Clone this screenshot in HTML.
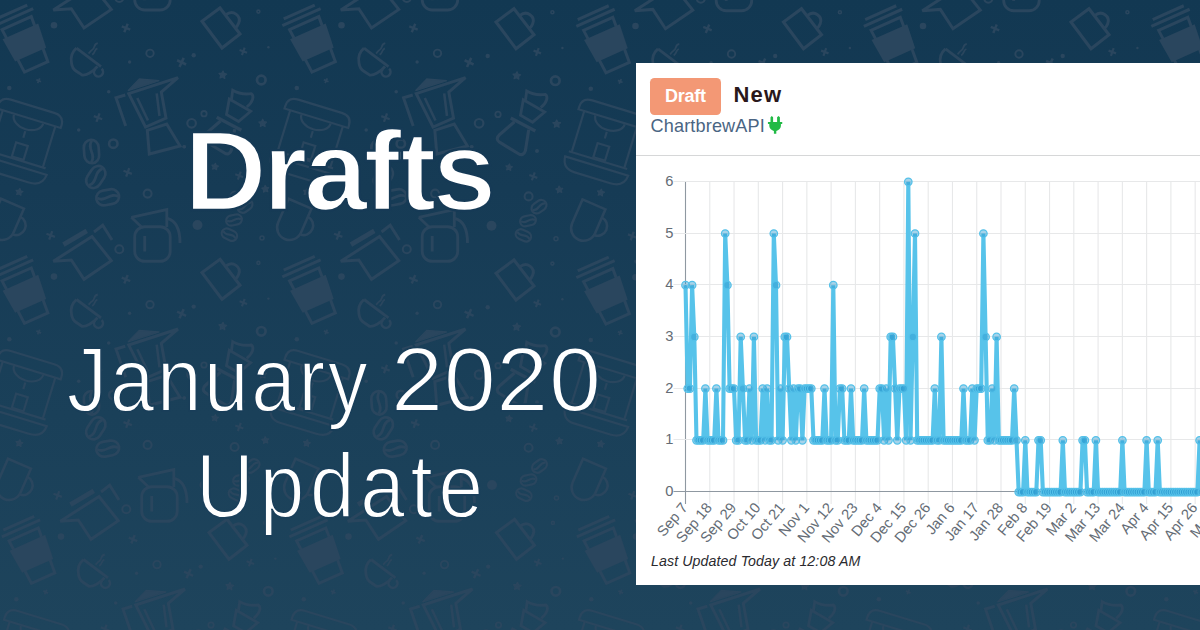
<!DOCTYPE html>
<html lang="en"><head><meta charset="utf-8"><title>Drafts - January 2020 Update</title>
<style>
html,body{margin:0;padding:0}
html{background:#173c56;height:630px;overflow:hidden}
body{width:1200px;height:630px;overflow:hidden;position:relative;background:linear-gradient(180deg,#123852 0%,#163b55 30%,#1a4059 66%,#1e445c 100%);font-family:"Liberation Sans",Arial,sans-serif}
svg.bg,svg.chart{position:absolute;left:0;top:0;display:block}
.title{position:absolute;left:0;width:677px;text-align:center;color:#fff;white-space:nowrap}
.t1{top:111px;font-size:114px;line-height:120px;font-weight:bold;letter-spacing:-3.5px;-webkit-text-stroke:2.4px #163a56}
.t2{font-size:80px;line-height:80px;letter-spacing:3.75px;transform:scaleY(1.135);transform-origin:0 67.7px}
.l2{top:343.8px;height:80px;text-align:left;-webkit-text-stroke:1.6px #193e59}
.l2 span{position:absolute;top:0;display:block}
.jan{left:67px;letter-spacing:2.7px}
.yr{left:391px;letter-spacing:.5px;transform:scaleX(1.17);transform-origin:0 0}
.l3{top:450px;left:4px;letter-spacing:5.8px;-webkit-text-stroke:1.6px #1b405b}
.card{position:absolute;left:636px;top:63px;width:600px;height:522px;background:#fff}
.label{position:absolute;left:650px;top:78px;width:71px;height:36.5px;border-radius:4.5px;background:#f39875;color:#fff;font-weight:bold;font-size:18px;letter-spacing:-.25px;line-height:37px;text-align:center}
.new{position:absolute;left:733.5px;top:80.5px;font-size:22px;line-height:28px;font-weight:bold;color:#2a181b;letter-spacing:1.2px}
.conn{position:absolute;left:650.5px;top:114.3px;font-size:18.1px;line-height:24px;color:#4a6583;letter-spacing:.15px}
.hr{position:absolute;left:636px;top:155px;width:600px;height:1.3px;background:#d6d7d8}
.upd{position:absolute;left:651px;top:551.5px;font-size:14.2px;line-height:18px;font-style:italic;color:#2a2a2e;letter-spacing:.1px}
svg.plug{position:absolute;left:768px;top:116px;overflow:visible}
</style></head><body>
<svg class="bg" width="1200" height="630" viewBox="0 0 1200 630">
<defs><g id="all"><g id="e0"><g transform="translate(14,17.1) rotate(-24)">
<path d="M-17,-5.6H17M-21,0H21" stroke-width="3.12"/>
<path d="M-16,6.6H16L12.8,54.5H-12.800000Z" stroke-width="2.99"/>
<path d="M-19.5,15.7H19.5L17,41H-17Z" fill="#2a465e" stroke="none"/></g></g><g id="e1"><path d="M53.3,261.3L92,236.5L111.3,260.7L84,279.3L71.3,260Z" stroke-width="2.99"/>
<path d="M62.2,242.6L85.6,228.8L88,232.9L64.6,246.7Z" fill="#2a465e" stroke="none"/>
<path d="M94,232L102.7,225.3L112,240" stroke-width="2.99"/></g><g id="e2"><circle cx="54" cy="25.3" r="3.3" fill="#2a465e" stroke="none"/></g><g id="e3"><path transform="translate(126,28) rotate(22)" stroke-width="2.47" d="M-4.6,0H4.6M0,-4.6V4.6"/></g><g id="e4"><circle cx="150" cy="53.3" r="3.7" stroke-width="1.95"/></g><g id="e5"><circle cx="129.6" cy="62" r="1.7" fill="#2a465e" stroke="none"/></g><g id="e6"><path d="M76.5,48.2L101,66.6" stroke-width="2.86"/>
<path d="M76.5,48.2C72,52 70.5,58 71.5,63C72,67 73,69 76,71L82,75C86,75.6 93,72 97.5,66.3" stroke-width="2.86"/>
<path d="M95.2,69A4.5,4.5 0 1 0 101.6,68.8" stroke-width="2.60"/>
<path d="M97.8,43.2C93,44 95.5,48.5 92,50C90,51 90,52.5 88.5,53.5M97.4,48.3C94,49.5 96,52 92.2,54.7" stroke-width="1.82"/></g><g id="e7"><path transform="translate(38.7,80.7) rotate(25)" stroke-width="1.82" d="M-2.6,0H2.6M0,-2.6V2.6"/></g><g id="e8"><path d="M128,90.7L139.3,79L159.3,80.7Z" fill="#2a465e" stroke="#2a465e" stroke-width="1.30"/>
<path d="M128.7,93.7L178,77.7L161.3,92L166,118L145.5,127Z" stroke-width="2.99"/>
<path d="M137.3,98L148,120.5M156.7,93.3L159.5,116" stroke-width="2.60"/>
<path d="M125.3,95L116,97.7L125.7,126" stroke-width="2.99"/>
<path d="M147.3,130.3L166.7,124L180,146L149.3,154Z" stroke-width="2.99"/></g><g id="e9"><circle cx="184" cy="146.7" r="1.8" fill="#2a465e" stroke="none"/></g><g id="e10"><circle cx="113.3" cy="143.7" r="4.2" stroke-width="2.60"/></g><g id="e11"><g transform="translate(-3,108.5) rotate(17)" stroke-width="2.21">
<path d="M0,0H66.6V-2.5Q66.6,-12.5 56,-12.5H10.6Q0,-12.5 0,-2.5Z"/>
<path d="M6,0V43M61,0V43"/>
<path d="M18,1A15.3,10.5 0 0 0 48.6,1"/>
<path d="M33.7,13.4V20.3"/>
<rect x="28.2" y="26.8" width="12.2" height="14.7"/>
<path d="M3,43H64M1,49H67Q66,61.5 52,61.5H14Q2,61.5 1,49Z"/></g></g><g id="e12"><circle cx="9.3" cy="88" r="2.3" fill="#2a465e" stroke="none"/></g><g id="e13"><path transform="translate(98,117.7) rotate(20)" stroke-width="2.34" d="M-4.5,0H4.5M0,-4.5V4.5"/></g><g id="e14"><circle cx="78.7" cy="130" r="1.8" fill="#2a465e" stroke="none"/></g><g id="e15"><circle cx="108.7" cy="91.7" r="1.8" fill="#2a465e" stroke="none"/></g><g id="e16"><g transform="translate(91.5,151.5) rotate(-4)" stroke-width="2.73"><rect x="-7.4" y="-11.75" width="14.8" height="23.5" rx="7.4" ry="7.7700000000000005"/><path d="M1.11,-10.75 C-5.18,-3.52 5.18,3.52 -1.11,10.75"/></g></g><g id="e17"><g transform="translate(95.8,177) rotate(33)" stroke-width="2.73"><rect x="-7.4" y="-11.75" width="14.8" height="23.5" rx="7.4" ry="7.7700000000000005"/><path d="M1.11,-10.75 C-5.18,-3.52 5.18,3.52 -1.11,10.75"/></g></g><g id="e18"><g transform="translate(107.7,197.3) rotate(80)" stroke-width="2.73"><rect x="-7.4" y="-11.5" width="14.8" height="23" rx="7.4" ry="7.7700000000000005"/><path d="M1.11,-10.5 C-5.18,-3.45 5.18,3.45 -1.11,10.5"/></g></g><g id="e19"><path transform="translate(127.7,172.3) rotate(20)" stroke-width="2.34" d="M-4.5,0H4.5M0,-4.5V4.5"/></g><g id="e20"><circle cx="147.6" cy="193.6" r="4" stroke-width="2.08"/></g><g id="e21"><polygon points="19.93,188.45 20.59,190.75 22.86,191.50 20.89,192.85 20.88,195.24 18.99,193.77 16.71,194.50 17.52,192.25 16.12,190.31 18.51,190.38" fill="#2a465e" stroke="#2a465e" stroke-width="1.30" stroke-linejoin="round"/></g><g id="e22"><path transform="translate(50.7,235.3) rotate(20)" stroke-width="2.34" d="M-4.5,0H4.5M0,-4.5V4.5"/></g><g id="e23"><g transform="translate(1,198.7) rotate(23.5)" stroke-width="2.60">
<path d="M0,0H25V26A12.5,12.5 0 0 1 0,26Z"/>
<path d="M25,9A9,9.5 0 0 1 25,28"/></g></g><g id="e24"><path d="M131.3,217.3L166.8,209.5V227" stroke-width="2.86"/>
<path d="M131.3,217.3L141.5,227" stroke-width="2.86"/>
<rect x="134.7" y="226.7" width="35.5" height="34.6" rx="10" ry="10" stroke-width="2.86"/>
<path d="M144.7,236V251.5" stroke-width="2.86"/>
<path d="M167.5,218.500000C177,221 180,230 180,243" stroke-width="2.86"/></g><g id="e25"><path d="M220,8L240,34L222,48L202,21.3Z" stroke-width="3.12"/>
<path d="M226,14.7C233,9 241.500000,16 238.700000,23C237.800000,25.5 236.500000,27 235.3,28" stroke-width="2.99"/></g><g id="e26"><circle cx="258.4" cy="11.6" r="1.5" stroke-width="1.56"/></g><g id="e27"><circle cx="268.4" cy="47.3" r="1.2" fill="#2a465e" stroke="none"/></g><g id="e28"><path transform="translate(243.3,51.3) rotate(20)" stroke-width="2.21" d="M-4,0H4M0,-4V4"/></g><g id="e29"><path transform="translate(181.6,62.4) rotate(25)" stroke-width="2.60" d="M-5,0H5M0,-5V5"/></g><g id="e30"><circle cx="193.7" cy="55.3" r="2.2" fill="#2a465e" stroke="none"/></g><g id="e31"><polygon points="223.05,71.02 224.01,73.49 226.60,74.10 224.54,75.78 224.76,78.43 222.53,76.99 220.08,78.02 220.75,75.45 219.02,73.44 221.67,73.29" fill="#2a465e" stroke="#2a465e" stroke-width="1.30" stroke-linejoin="round"/></g><g id="e32"><circle cx="261.3" cy="80" r="4.3" stroke-width="2.73"/></g><g id="e33"><path d="M231.3,100.7L232.7,90.3C238,93.5 245,94.5 251.3,93.7C254.500000,96 253,102 246.7,107" stroke-width="2.86"/>
<path d="M229.3,99L250.7,111.3L238.600000,121.5L226.5,114.5Z" stroke-width="2.86"/>
<path d="M216.7,117.3L241.4,130.3" stroke-width="3.38"/>
<path d="M220.5,121L205.500000,134C202.5,136.500000 202.5,139.500000 205.500000,141.500000L224.500000,153C227.500000,155 230.500000,153.500000 231.400000,150L234.7,129" stroke-width="3.12"/></g><g id="e34"><circle cx="243" cy="150.3" r="2" fill="#2a465e" stroke="none"/></g><g id="e35"><circle cx="204" cy="113.7" r="2.7" stroke-width="1.82"/></g><g id="e36"><circle cx="191.6" cy="123.3" r="4.3" stroke-width="2.21"/></g><g id="e37"><polygon points="262.70,119.30 263.88,121.68 266.50,122.06 264.60,123.92 265.05,126.54 262.70,125.30 260.35,126.54 260.80,123.92 258.90,122.06 261.52,121.68" fill="#2a465e" stroke="#2a465e" stroke-width="1.30" stroke-linejoin="round"/></g><g id="e38"><circle cx="184.4" cy="146.7" r="1.8" fill="#2a465e" stroke="none"/></g><g id="e39"><polygon points="215.47,163.33 216.18,165.48 218.35,166.11 216.53,167.45 216.60,169.70 214.76,168.38 212.64,169.15 213.33,167.00 211.94,165.21 214.20,165.20" fill="#2a465e" stroke="#2a465e" stroke-width="1.30" stroke-linejoin="round"/></g><g id="e40"><path transform="translate(239.3,175.7) rotate(20)" stroke-width="2.21" d="M-4.3,0H4.3M0,-4.3V4.3"/></g><g id="e41"><polygon points="265.09,185.41 266.33,187.46 268.71,187.59 267.15,189.40 267.76,191.72 265.56,190.79 263.55,192.09 263.74,189.70 261.89,188.19 264.22,187.64" fill="#2a465e" stroke="#2a465e" stroke-width="1.30" stroke-linejoin="round"/></g><g id="e42"><circle cx="234.6" cy="195.7" r="4" stroke-width="2.08"/></g><g id="e43"><g transform="translate(245,206) rotate(55)" stroke-width="2.21"><rect x="-5.25" y="-8.0" width="10.5" height="16" rx="5.25" ry="5.5125"/><path d="M0.79,-7.0 C-3.67,-2.40 3.67,2.40 -0.79,7.0"/></g></g><g id="e44"><g transform="translate(234,220) rotate(78)" stroke-width="2.21"><rect x="-5.0" y="-8.0" width="10" height="16" rx="5.0" ry="5.25"/><path d="M0.75,-7.0 C-3.50,-2.40 3.50,2.40 -0.75,7.0"/></g></g><g id="e45"><g transform="translate(229.4,234.7) rotate(115)" stroke-width="2.21"><rect x="-5.0" y="-8.0" width="10" height="16" rx="5.0" ry="5.25"/><path d="M0.75,-7.0 C-3.50,-2.40 3.50,2.40 -0.75,7.0"/></g></g><g id="e46"><circle cx="197.5" cy="225" r="5" fill="#2a465e" stroke="none"/></g><g id="e47"><circle cx="262" cy="238" r="2" stroke-width="1.56"/></g><g id="e48"><circle cx="119.3" cy="249.3" r="4" stroke-width="2.08"/></g></g></defs>
<g fill="none" stroke="#2a465e" stroke-width="2.9" stroke-linecap="butt" stroke-linejoin="miter"><use href="#e0" x="0.0" y="0.0"/><use href="#e0" x="0.0" y="251.3"/><use href="#e0" x="7.0" y="511.3"/><use href="#e0" x="287.5" y="0.0"/><use href="#e0" x="287.5" y="251.3"/><use href="#e0" x="294.5" y="511.3"/><use href="#e0" x="581.5" y="0.7"/><use href="#e0" x="581.5" y="252.0"/><use href="#e0" x="582.0" y="511.3"/><use href="#e0" x="869.0" y="0.7"/><use href="#e0" x="869.5" y="511.3"/><use href="#e0" x="1156.5" y="0.7"/><use href="#e0" x="1157.0" y="511.3"/><use href="#e1" x="0.0" y="-251.3"/><use href="#e1" x="0.0" y="0.0"/><use href="#e1" x="7.0" y="260.0"/><use href="#e1" x="287.5" y="-251.3"/><use href="#e1" x="287.5" y="0.0"/><use href="#e1" x="294.5" y="260.0"/><use href="#e1" x="581.5" y="-250.6"/><use href="#e1" x="581.5" y="0.7"/><use href="#e1" x="582.0" y="260.0"/><use href="#e1" x="869.0" y="-250.6"/><use href="#e1" x="1156.5" y="-250.6"/><use href="#e2" x="0.0" y="0.0"/><use href="#e2" x="0.0" y="251.3"/><use href="#e2" x="7.0" y="511.3"/><use href="#e2" x="287.5" y="0.0"/><use href="#e2" x="287.5" y="251.3"/><use href="#e2" x="294.5" y="511.3"/><use href="#e2" x="581.5" y="0.7"/><use href="#e2" x="581.5" y="252.0"/><use href="#e2" x="582.0" y="511.3"/><use href="#e2" x="869.0" y="0.7"/><use href="#e2" x="1156.5" y="0.7"/><use href="#e3" x="0.0" y="0.0"/><use href="#e3" x="0.0" y="251.3"/><use href="#e3" x="7.0" y="511.3"/><use href="#e3" x="287.5" y="0.0"/><use href="#e3" x="287.5" y="251.3"/><use href="#e3" x="294.5" y="511.3"/><use href="#e3" x="581.5" y="0.7"/><use href="#e3" x="582.0" y="511.3"/><use href="#e3" x="869.0" y="0.7"/><use href="#e3" x="869.5" y="511.3"/><use href="#e4" x="0.0" y="0.0"/><use href="#e4" x="0.0" y="251.3"/><use href="#e4" x="7.0" y="511.3"/><use href="#e4" x="287.5" y="0.0"/><use href="#e4" x="287.5" y="251.3"/><use href="#e4" x="294.5" y="511.3"/><use href="#e4" x="581.5" y="0.7"/><use href="#e4" x="582.0" y="511.3"/><use href="#e4" x="869.0" y="0.7"/><use href="#e4" x="869.5" y="511.3"/><use href="#e5" x="0.0" y="0.0"/><use href="#e5" x="0.0" y="251.3"/><use href="#e5" x="7.0" y="511.3"/><use href="#e5" x="287.5" y="0.0"/><use href="#e5" x="287.5" y="251.3"/><use href="#e5" x="294.5" y="511.3"/><use href="#e5" x="581.5" y="0.7"/><use href="#e5" x="582.0" y="511.3"/><use href="#e5" x="869.0" y="0.7"/><use href="#e5" x="869.5" y="511.3"/><use href="#e6" x="0.0" y="0.0"/><use href="#e6" x="0.0" y="251.3"/><use href="#e6" x="7.0" y="511.3"/><use href="#e6" x="287.5" y="0.0"/><use href="#e6" x="287.5" y="251.3"/><use href="#e6" x="294.5" y="511.3"/><use href="#e6" x="581.5" y="0.7"/><use href="#e6" x="581.5" y="252.0"/><use href="#e6" x="582.0" y="511.3"/><use href="#e6" x="869.0" y="0.7"/><use href="#e6" x="869.5" y="511.3"/><use href="#e6" x="1156.5" y="0.7"/><use href="#e6" x="1157.0" y="511.3"/><use href="#e7" x="0.0" y="0.0"/><use href="#e7" x="0.0" y="251.3"/><use href="#e7" x="7.0" y="511.3"/><use href="#e7" x="287.5" y="0.0"/><use href="#e7" x="287.5" y="251.3"/><use href="#e7" x="294.5" y="511.3"/><use href="#e7" x="581.5" y="0.7"/><use href="#e7" x="581.5" y="252.0"/><use href="#e7" x="582.0" y="511.3"/><use href="#e7" x="869.0" y="0.7"/><use href="#e7" x="869.5" y="511.3"/><use href="#e7" x="1156.5" y="0.7"/><use href="#e7" x="1157.0" y="511.3"/><use href="#e8" x="0.0" y="0.0"/><use href="#e8" x="0.0" y="251.3"/><use href="#e8" x="7.0" y="511.3"/><use href="#e8" x="287.5" y="0.0"/><use href="#e8" x="287.5" y="251.3"/><use href="#e8" x="294.5" y="511.3"/><use href="#e8" x="582.0" y="511.3"/><use href="#e8" x="869.5" y="511.3"/><use href="#e9" x="0.0" y="0.0"/><use href="#e9" x="0.0" y="251.3"/><use href="#e9" x="7.0" y="511.3"/><use href="#e9" x="287.5" y="0.0"/><use href="#e9" x="287.5" y="251.3"/><use href="#e9" x="294.5" y="511.3"/><use href="#e9" x="582.0" y="511.3"/><use href="#e9" x="869.5" y="511.3"/><use href="#e10" x="0.0" y="0.0"/><use href="#e10" x="0.0" y="251.3"/><use href="#e10" x="7.0" y="511.3"/><use href="#e10" x="287.5" y="0.0"/><use href="#e10" x="287.5" y="251.3"/><use href="#e10" x="294.5" y="511.3"/><use href="#e10" x="582.0" y="511.3"/><use href="#e10" x="869.5" y="511.3"/><use href="#e11" x="0.0" y="0.0"/><use href="#e11" x="0.0" y="251.3"/><use href="#e11" x="7.0" y="511.3"/><use href="#e11" x="287.5" y="0.0"/><use href="#e11" x="287.5" y="251.3"/><use href="#e11" x="294.5" y="511.3"/><use href="#e11" x="581.5" y="0.7"/><use href="#e11" x="581.5" y="252.0"/><use href="#e11" x="582.0" y="511.3"/><use href="#e11" x="869.5" y="511.3"/><use href="#e11" x="1157.0" y="511.3"/><use href="#e12" x="0.0" y="0.0"/><use href="#e12" x="0.0" y="251.3"/><use href="#e12" x="7.0" y="511.3"/><use href="#e12" x="287.5" y="0.0"/><use href="#e12" x="287.5" y="251.3"/><use href="#e12" x="294.5" y="511.3"/><use href="#e12" x="581.5" y="0.7"/><use href="#e12" x="581.5" y="252.0"/><use href="#e12" x="582.0" y="511.3"/><use href="#e12" x="869.0" y="0.7"/><use href="#e12" x="869.5" y="511.3"/><use href="#e12" x="1156.5" y="0.7"/><use href="#e12" x="1157.0" y="511.3"/><use href="#e13" x="0.0" y="0.0"/><use href="#e13" x="0.0" y="251.3"/><use href="#e13" x="7.0" y="511.3"/><use href="#e13" x="287.5" y="0.0"/><use href="#e13" x="287.5" y="251.3"/><use href="#e13" x="294.5" y="511.3"/><use href="#e13" x="581.5" y="0.7"/><use href="#e13" x="581.5" y="252.0"/><use href="#e13" x="582.0" y="511.3"/><use href="#e13" x="869.5" y="511.3"/><use href="#e13" x="1157.0" y="511.3"/><use href="#e14" x="0.0" y="0.0"/><use href="#e14" x="0.0" y="251.3"/><use href="#e14" x="7.0" y="511.3"/><use href="#e14" x="287.5" y="0.0"/><use href="#e14" x="287.5" y="251.3"/><use href="#e14" x="294.5" y="511.3"/><use href="#e14" x="581.5" y="0.7"/><use href="#e14" x="581.5" y="252.0"/><use href="#e14" x="582.0" y="511.3"/><use href="#e14" x="869.5" y="511.3"/><use href="#e14" x="1157.0" y="511.3"/><use href="#e15" x="0.0" y="0.0"/><use href="#e15" x="0.0" y="251.3"/><use href="#e15" x="7.0" y="511.3"/><use href="#e15" x="287.5" y="0.0"/><use href="#e15" x="287.5" y="251.3"/><use href="#e15" x="294.5" y="511.3"/><use href="#e15" x="581.5" y="0.7"/><use href="#e15" x="582.0" y="511.3"/><use href="#e15" x="869.0" y="0.7"/><use href="#e15" x="869.5" y="511.3"/><use href="#e16" x="0.0" y="0.0"/><use href="#e16" x="0.0" y="251.3"/><use href="#e16" x="7.0" y="511.3"/><use href="#e16" x="287.5" y="0.0"/><use href="#e16" x="287.5" y="251.3"/><use href="#e16" x="294.5" y="511.3"/><use href="#e16" x="581.5" y="0.7"/><use href="#e16" x="581.5" y="252.0"/><use href="#e16" x="582.0" y="511.3"/><use href="#e16" x="869.5" y="511.3"/><use href="#e16" x="1157.0" y="511.3"/><use href="#e17" x="0.0" y="0.0"/><use href="#e17" x="0.0" y="251.3"/><use href="#e17" x="7.0" y="511.3"/><use href="#e17" x="287.5" y="0.0"/><use href="#e17" x="287.5" y="251.3"/><use href="#e17" x="294.5" y="511.3"/><use href="#e17" x="581.5" y="0.7"/><use href="#e17" x="581.5" y="252.0"/><use href="#e17" x="582.0" y="511.3"/><use href="#e17" x="869.5" y="511.3"/><use href="#e17" x="1157.0" y="511.3"/><use href="#e18" x="0.0" y="-251.3"/><use href="#e18" x="0.0" y="0.0"/><use href="#e18" x="0.0" y="251.3"/><use href="#e18" x="287.5" y="-251.3"/><use href="#e18" x="287.5" y="0.0"/><use href="#e18" x="287.5" y="251.3"/><use href="#e18" x="581.5" y="-250.6"/><use href="#e18" x="869.0" y="-250.6"/><use href="#e19" x="0.0" y="0.0"/><use href="#e19" x="0.0" y="251.3"/><use href="#e19" x="7.0" y="511.3"/><use href="#e19" x="287.5" y="0.0"/><use href="#e19" x="287.5" y="251.3"/><use href="#e19" x="294.5" y="511.3"/><use href="#e19" x="582.0" y="511.3"/><use href="#e19" x="869.5" y="511.3"/><use href="#e20" x="0.0" y="-251.3"/><use href="#e20" x="0.0" y="0.0"/><use href="#e20" x="0.0" y="251.3"/><use href="#e20" x="287.5" y="-251.3"/><use href="#e20" x="287.5" y="0.0"/><use href="#e20" x="287.5" y="251.3"/><use href="#e20" x="581.5" y="-250.6"/><use href="#e20" x="869.0" y="-250.6"/><use href="#e21" x="0.0" y="-251.3"/><use href="#e21" x="0.0" y="0.0"/><use href="#e21" x="0.0" y="251.3"/><use href="#e21" x="287.5" y="-251.3"/><use href="#e21" x="287.5" y="0.0"/><use href="#e21" x="287.5" y="251.3"/><use href="#e21" x="581.5" y="-250.6"/><use href="#e21" x="581.5" y="0.7"/><use href="#e21" x="581.5" y="252.0"/><use href="#e21" x="869.0" y="-250.6"/><use href="#e21" x="1156.5" y="-250.6"/><use href="#e22" x="0.0" y="-251.3"/><use href="#e22" x="0.0" y="0.0"/><use href="#e22" x="7.0" y="260.0"/><use href="#e22" x="287.5" y="-251.3"/><use href="#e22" x="287.5" y="0.0"/><use href="#e22" x="294.5" y="260.0"/><use href="#e22" x="581.5" y="-250.6"/><use href="#e22" x="581.5" y="0.7"/><use href="#e22" x="582.0" y="260.0"/><use href="#e22" x="869.0" y="-250.6"/><use href="#e22" x="1156.5" y="-250.6"/><use href="#e23" x="0.0" y="-251.3"/><use href="#e23" x="0.0" y="0.0"/><use href="#e23" x="7.0" y="260.0"/><use href="#e23" x="287.5" y="-251.3"/><use href="#e23" x="287.5" y="0.0"/><use href="#e23" x="294.5" y="260.0"/><use href="#e23" x="581.5" y="-250.6"/><use href="#e23" x="581.5" y="0.7"/><use href="#e23" x="582.0" y="260.0"/><use href="#e23" x="869.0" y="-250.6"/><use href="#e23" x="1156.5" y="-250.6"/><use href="#e24" x="0.0" y="-251.3"/><use href="#e24" x="0.0" y="0.0"/><use href="#e24" x="7.0" y="260.0"/><use href="#e24" x="287.5" y="-251.3"/><use href="#e24" x="287.5" y="0.0"/><use href="#e24" x="294.5" y="260.0"/><use href="#e24" x="581.5" y="-250.6"/><use href="#e24" x="869.0" y="-250.6"/><use href="#e25" x="-280.5" y="511.3"/><use href="#e25" x="0.0" y="0.0"/><use href="#e25" x="0.0" y="251.3"/><use href="#e25" x="7.0" y="511.3"/><use href="#e25" x="294.0" y="0.7"/><use href="#e25" x="294.0" y="252.0"/><use href="#e25" x="294.5" y="511.3"/><use href="#e25" x="581.5" y="0.7"/><use href="#e25" x="582.0" y="511.3"/><use href="#e25" x="869.0" y="0.7"/><use href="#e25" x="869.5" y="511.3"/><use href="#e26" x="-287.5" y="0.0"/><use href="#e26" x="-287.5" y="251.3"/><use href="#e26" x="-280.5" y="511.3"/><use href="#e26" x="0.0" y="0.0"/><use href="#e26" x="0.0" y="251.3"/><use href="#e26" x="7.0" y="511.3"/><use href="#e26" x="294.0" y="0.7"/><use href="#e26" x="294.0" y="252.0"/><use href="#e26" x="294.5" y="511.3"/><use href="#e26" x="581.5" y="0.7"/><use href="#e26" x="869.0" y="0.7"/><use href="#e27" x="-287.5" y="0.0"/><use href="#e27" x="-287.5" y="251.3"/><use href="#e27" x="-280.5" y="511.3"/><use href="#e27" x="0.0" y="0.0"/><use href="#e27" x="0.0" y="251.3"/><use href="#e27" x="7.0" y="511.3"/><use href="#e27" x="294.0" y="0.7"/><use href="#e27" x="294.0" y="252.0"/><use href="#e27" x="294.5" y="511.3"/><use href="#e27" x="581.5" y="0.7"/><use href="#e27" x="582.0" y="511.3"/><use href="#e27" x="869.0" y="0.7"/><use href="#e27" x="869.5" y="511.3"/><use href="#e28" x="-287.5" y="0.0"/><use href="#e28" x="-287.5" y="251.3"/><use href="#e28" x="-280.5" y="511.3"/><use href="#e28" x="0.0" y="0.0"/><use href="#e28" x="0.0" y="251.3"/><use href="#e28" x="7.0" y="511.3"/><use href="#e28" x="294.0" y="0.7"/><use href="#e28" x="294.0" y="252.0"/><use href="#e28" x="294.5" y="511.3"/><use href="#e28" x="581.5" y="0.7"/><use href="#e28" x="582.0" y="511.3"/><use href="#e28" x="869.0" y="0.7"/><use href="#e28" x="869.5" y="511.3"/><use href="#e29" x="0.0" y="0.0"/><use href="#e29" x="0.0" y="251.3"/><use href="#e29" x="7.0" y="511.3"/><use href="#e29" x="287.5" y="0.0"/><use href="#e29" x="287.5" y="251.3"/><use href="#e29" x="294.5" y="511.3"/><use href="#e29" x="581.5" y="0.7"/><use href="#e29" x="582.0" y="511.3"/><use href="#e29" x="869.0" y="0.7"/><use href="#e29" x="869.5" y="511.3"/><use href="#e30" x="0.0" y="0.0"/><use href="#e30" x="0.0" y="251.3"/><use href="#e30" x="7.0" y="511.3"/><use href="#e30" x="294.0" y="0.7"/><use href="#e30" x="294.0" y="252.0"/><use href="#e30" x="294.5" y="511.3"/><use href="#e30" x="581.5" y="0.7"/><use href="#e30" x="582.0" y="511.3"/><use href="#e30" x="869.0" y="0.7"/><use href="#e30" x="869.5" y="511.3"/><use href="#e31" x="-280.5" y="511.3"/><use href="#e31" x="0.0" y="0.0"/><use href="#e31" x="0.0" y="251.3"/><use href="#e31" x="7.0" y="511.3"/><use href="#e31" x="294.0" y="0.7"/><use href="#e31" x="294.0" y="252.0"/><use href="#e31" x="294.5" y="511.3"/><use href="#e31" x="581.5" y="0.7"/><use href="#e31" x="582.0" y="511.3"/><use href="#e31" x="869.0" y="0.7"/><use href="#e31" x="869.5" y="511.3"/><use href="#e32" x="-287.5" y="0.0"/><use href="#e32" x="-287.5" y="251.3"/><use href="#e32" x="-280.5" y="511.3"/><use href="#e32" x="0.0" y="0.0"/><use href="#e32" x="0.0" y="251.3"/><use href="#e32" x="7.0" y="511.3"/><use href="#e32" x="294.0" y="0.7"/><use href="#e32" x="294.0" y="252.0"/><use href="#e32" x="294.5" y="511.3"/><use href="#e32" x="581.5" y="0.7"/><use href="#e32" x="582.0" y="511.3"/><use href="#e32" x="869.0" y="0.7"/><use href="#e32" x="869.5" y="511.3"/><use href="#e33" x="-287.5" y="0.0"/><use href="#e33" x="-287.5" y="251.3"/><use href="#e33" x="-280.5" y="511.3"/><use href="#e33" x="0.0" y="0.0"/><use href="#e33" x="0.0" y="251.3"/><use href="#e33" x="7.0" y="511.3"/><use href="#e33" x="294.0" y="0.7"/><use href="#e33" x="294.0" y="252.0"/><use href="#e33" x="294.5" y="511.3"/><use href="#e33" x="582.0" y="511.3"/><use href="#e33" x="869.5" y="511.3"/><use href="#e34" x="-287.5" y="0.0"/><use href="#e34" x="-287.5" y="251.3"/><use href="#e34" x="-280.5" y="511.3"/><use href="#e34" x="0.0" y="0.0"/><use href="#e34" x="0.0" y="251.3"/><use href="#e34" x="7.0" y="511.3"/><use href="#e34" x="294.0" y="0.7"/><use href="#e34" x="294.0" y="252.0"/><use href="#e34" x="294.5" y="511.3"/><use href="#e34" x="582.0" y="511.3"/><use href="#e34" x="869.5" y="511.3"/><use href="#e35" x="0.0" y="0.0"/><use href="#e35" x="0.0" y="251.3"/><use href="#e35" x="7.0" y="511.3"/><use href="#e35" x="294.0" y="0.7"/><use href="#e35" x="294.0" y="252.0"/><use href="#e35" x="294.5" y="511.3"/><use href="#e35" x="582.0" y="511.3"/><use href="#e35" x="869.5" y="511.3"/><use href="#e36" x="0.0" y="0.0"/><use href="#e36" x="0.0" y="251.3"/><use href="#e36" x="7.0" y="511.3"/><use href="#e36" x="287.5" y="0.0"/><use href="#e36" x="287.5" y="251.3"/><use href="#e36" x="294.5" y="511.3"/><use href="#e36" x="582.0" y="511.3"/><use href="#e36" x="869.5" y="511.3"/><use href="#e37" x="-287.5" y="0.0"/><use href="#e37" x="-287.5" y="251.3"/><use href="#e37" x="-280.5" y="511.3"/><use href="#e37" x="0.0" y="0.0"/><use href="#e37" x="0.0" y="251.3"/><use href="#e37" x="7.0" y="511.3"/><use href="#e37" x="294.0" y="0.7"/><use href="#e37" x="294.0" y="252.0"/><use href="#e37" x="294.5" y="511.3"/><use href="#e37" x="582.0" y="511.3"/><use href="#e37" x="869.5" y="511.3"/><use href="#e38" x="0.0" y="0.0"/><use href="#e38" x="0.0" y="251.3"/><use href="#e38" x="7.0" y="511.3"/><use href="#e38" x="287.5" y="0.0"/><use href="#e38" x="287.5" y="251.3"/><use href="#e38" x="294.5" y="511.3"/><use href="#e38" x="582.0" y="511.3"/><use href="#e38" x="869.5" y="511.3"/><use href="#e39" x="0.0" y="0.0"/><use href="#e39" x="0.0" y="251.3"/><use href="#e39" x="7.0" y="511.3"/><use href="#e39" x="294.0" y="0.7"/><use href="#e39" x="294.0" y="252.0"/><use href="#e39" x="294.5" y="511.3"/><use href="#e39" x="582.0" y="511.3"/><use href="#e39" x="869.5" y="511.3"/><use href="#e40" x="-287.5" y="0.0"/><use href="#e40" x="-287.5" y="251.3"/><use href="#e40" x="-280.5" y="511.3"/><use href="#e40" x="0.0" y="0.0"/><use href="#e40" x="0.0" y="251.3"/><use href="#e40" x="7.0" y="511.3"/><use href="#e40" x="294.0" y="0.7"/><use href="#e40" x="294.0" y="252.0"/><use href="#e40" x="294.5" y="511.3"/><use href="#e40" x="582.0" y="511.3"/><use href="#e40" x="869.5" y="511.3"/><use href="#e41" x="-287.5" y="0.0"/><use href="#e41" x="-287.5" y="251.3"/><use href="#e41" x="0.0" y="0.0"/><use href="#e41" x="0.0" y="251.3"/><use href="#e41" x="294.0" y="0.7"/><use href="#e41" x="294.0" y="252.0"/><use href="#e42" x="-287.5" y="-251.3"/><use href="#e42" x="-287.5" y="0.0"/><use href="#e42" x="-287.5" y="251.3"/><use href="#e42" x="0.0" y="-251.3"/><use href="#e42" x="0.0" y="0.0"/><use href="#e42" x="0.0" y="251.3"/><use href="#e42" x="294.0" y="-250.6"/><use href="#e42" x="294.0" y="0.7"/><use href="#e42" x="294.0" y="252.0"/><use href="#e42" x="581.5" y="-250.6"/><use href="#e42" x="869.0" y="-250.6"/><use href="#e43" x="-287.5" y="-251.3"/><use href="#e43" x="-287.5" y="0.0"/><use href="#e43" x="-280.5" y="260.0"/><use href="#e43" x="0.0" y="-251.3"/><use href="#e43" x="0.0" y="0.0"/><use href="#e43" x="7.0" y="260.0"/><use href="#e43" x="294.0" y="-250.6"/><use href="#e43" x="294.0" y="0.7"/><use href="#e43" x="294.5" y="260.0"/><use href="#e43" x="581.5" y="-250.6"/><use href="#e43" x="869.0" y="-250.6"/><use href="#e44" x="-287.5" y="-251.3"/><use href="#e44" x="-287.5" y="0.0"/><use href="#e44" x="-280.5" y="260.0"/><use href="#e44" x="0.0" y="-251.3"/><use href="#e44" x="0.0" y="0.0"/><use href="#e44" x="7.0" y="260.0"/><use href="#e44" x="294.0" y="-250.6"/><use href="#e44" x="294.0" y="0.7"/><use href="#e44" x="294.5" y="260.0"/><use href="#e44" x="581.5" y="-250.6"/><use href="#e44" x="869.0" y="-250.6"/><use href="#e45" x="-287.5" y="-251.3"/><use href="#e45" x="-287.5" y="0.0"/><use href="#e45" x="-280.5" y="260.0"/><use href="#e45" x="0.0" y="-251.3"/><use href="#e45" x="0.0" y="0.0"/><use href="#e45" x="7.0" y="260.0"/><use href="#e45" x="294.0" y="-250.6"/><use href="#e45" x="294.0" y="0.7"/><use href="#e45" x="294.5" y="260.0"/><use href="#e45" x="581.5" y="-250.6"/><use href="#e45" x="869.0" y="-250.6"/><use href="#e46" x="0.0" y="-251.3"/><use href="#e46" x="0.0" y="0.0"/><use href="#e46" x="7.0" y="260.0"/><use href="#e46" x="294.0" y="-250.6"/><use href="#e46" x="294.0" y="0.7"/><use href="#e46" x="294.5" y="260.0"/><use href="#e46" x="581.5" y="-250.6"/><use href="#e46" x="869.0" y="-250.6"/><use href="#e47" x="-287.5" y="-251.3"/><use href="#e47" x="-287.5" y="0.0"/><use href="#e47" x="-280.5" y="260.0"/><use href="#e47" x="0.0" y="-251.3"/><use href="#e47" x="0.0" y="0.0"/><use href="#e47" x="7.0" y="260.0"/><use href="#e47" x="294.0" y="-250.6"/><use href="#e47" x="294.0" y="0.7"/><use href="#e47" x="294.5" y="260.0"/><use href="#e47" x="581.5" y="-250.6"/><use href="#e47" x="869.0" y="-250.6"/><use href="#e48" x="0.0" y="-251.3"/><use href="#e48" x="0.0" y="0.0"/><use href="#e48" x="7.0" y="260.0"/><use href="#e48" x="287.5" y="-251.3"/><use href="#e48" x="287.5" y="0.0"/><use href="#e48" x="294.5" y="260.0"/><use href="#e48" x="581.5" y="-250.6"/><use href="#e48" x="869.0" y="-250.6"/></g>
</svg>
<div class="title t1">Drafts</div>
<div class="title t2 l2"><span class="jan">January</span> <span class="yr">2020</span></div>
<div class="title t2 l3">Update</div>
<div class="card"></div>
<div class="label">Draft</div>
<div class="new">New</div>
<div class="conn">ChartbrewAPI</div>
<svg class="plug" width="15" height="19" viewBox="0 0 15 19"><path fill="#21ba45" d="M2.5,1.3L3.8,0.1L5.1,1.3V6H2.5ZM9.1,1.3L10.5,0.1L11.9,1.3V6H9.1ZM0.3,5.9H13.9Q14.3,5.9 14.3,6.3V7.5Q14.3,7.9 13.9,7.9H12.9V10C12.9,12.6 10.4,14.3 8.3,15.1V17.8H5.9V15.1C3.8,14.3 1.3,12.6 1.3,10V7.9H0.3Q-0.1,7.9 -0.1,7.5V6.3Q-0.1,5.9 0.3,5.9Z"/></svg>
<div class="hr"></div>
<svg class="chart" width="1200" height="630" viewBox="0 0 1200 630">
<g><line x1="685.50" y1="181.5" x2="685.50" y2="504" stroke="#8f98a1" stroke-width="1.1"/><line x1="709.77" y1="181.5" x2="709.77" y2="504" stroke="#e7e8e9" stroke-width="1.1"/><line x1="734.04" y1="181.5" x2="734.04" y2="504" stroke="#e7e8e9" stroke-width="1.1"/><line x1="758.31" y1="181.5" x2="758.31" y2="504" stroke="#e7e8e9" stroke-width="1.1"/><line x1="782.58" y1="181.5" x2="782.58" y2="504" stroke="#e7e8e9" stroke-width="1.1"/><line x1="806.85" y1="181.5" x2="806.85" y2="504" stroke="#e7e8e9" stroke-width="1.1"/><line x1="831.12" y1="181.5" x2="831.12" y2="504" stroke="#e7e8e9" stroke-width="1.1"/><line x1="855.39" y1="181.5" x2="855.39" y2="504" stroke="#e7e8e9" stroke-width="1.1"/><line x1="879.66" y1="181.5" x2="879.66" y2="504" stroke="#e7e8e9" stroke-width="1.1"/><line x1="903.93" y1="181.5" x2="903.93" y2="504" stroke="#e7e8e9" stroke-width="1.1"/><line x1="928.20" y1="181.5" x2="928.20" y2="504" stroke="#e7e8e9" stroke-width="1.1"/><line x1="952.47" y1="181.5" x2="952.47" y2="504" stroke="#e7e8e9" stroke-width="1.1"/><line x1="976.74" y1="181.5" x2="976.74" y2="504" stroke="#e7e8e9" stroke-width="1.1"/><line x1="1001.01" y1="181.5" x2="1001.01" y2="504" stroke="#e7e8e9" stroke-width="1.1"/><line x1="1025.28" y1="181.5" x2="1025.28" y2="504" stroke="#e7e8e9" stroke-width="1.1"/><line x1="1049.55" y1="181.5" x2="1049.55" y2="504" stroke="#e7e8e9" stroke-width="1.1"/><line x1="1073.82" y1="181.5" x2="1073.82" y2="504" stroke="#e7e8e9" stroke-width="1.1"/><line x1="1098.09" y1="181.5" x2="1098.09" y2="504" stroke="#e7e8e9" stroke-width="1.1"/><line x1="1122.36" y1="181.5" x2="1122.36" y2="504" stroke="#e7e8e9" stroke-width="1.1"/><line x1="1146.63" y1="181.5" x2="1146.63" y2="504" stroke="#e7e8e9" stroke-width="1.1"/><line x1="1170.90" y1="181.5" x2="1170.90" y2="504" stroke="#e7e8e9" stroke-width="1.1"/><line x1="1195.17" y1="181.5" x2="1195.17" y2="504" stroke="#e7e8e9" stroke-width="1.1"/><line x1="1219.44" y1="181.5" x2="1219.44" y2="504" stroke="#e7e8e9" stroke-width="1.1"/><line x1="673.5" y1="491.50" x2="1200" y2="491.50" stroke="#8f98a1" stroke-width="1.1"/><line x1="673.5" y1="439.50" x2="1200" y2="439.50" stroke="#e7e8e9" stroke-width="1.1"/><line x1="673.5" y1="388.50" x2="1200" y2="388.50" stroke="#e7e8e9" stroke-width="1.1"/><line x1="673.5" y1="336.50" x2="1200" y2="336.50" stroke="#e7e8e9" stroke-width="1.1"/><line x1="673.5" y1="284.50" x2="1200" y2="284.50" stroke="#e7e8e9" stroke-width="1.1"/><line x1="673.5" y1="233.50" x2="1200" y2="233.50" stroke="#e7e8e9" stroke-width="1.1"/><line x1="673.5" y1="181.50" x2="1200" y2="181.50" stroke="#e7e8e9" stroke-width="1.1"/></g>
<g font-family="Liberation Sans, Arial, sans-serif" font-size="14.7" fill="#646c75"><text x="673.3" y="496.2" text-anchor="end">0</text><text x="673.3" y="444.2" text-anchor="end">1</text><text x="673.3" y="393.2" text-anchor="end">2</text><text x="673.3" y="341.2" text-anchor="end">3</text><text x="673.3" y="289.2" text-anchor="end">4</text><text x="673.3" y="238.2" text-anchor="end">5</text><text x="673.3" y="186.2" text-anchor="end">6</text><text transform="translate(688.5,508) rotate(-50)" text-anchor="end">Sep 7</text><text transform="translate(712.8,508) rotate(-50)" text-anchor="end">Sep 18</text><text transform="translate(737.0,508) rotate(-50)" text-anchor="end">Sep 29</text><text transform="translate(761.3,508) rotate(-50)" text-anchor="end">Oct 10</text><text transform="translate(785.6,508) rotate(-50)" text-anchor="end">Oct 21</text><text transform="translate(809.9,508) rotate(-50)" text-anchor="end">Nov 1</text><text transform="translate(834.1,508) rotate(-50)" text-anchor="end">Nov 12</text><text transform="translate(858.4,508) rotate(-50)" text-anchor="end">Nov 23</text><text transform="translate(882.7,508) rotate(-50)" text-anchor="end">Dec 4</text><text transform="translate(906.9,508) rotate(-50)" text-anchor="end">Dec 15</text><text transform="translate(931.2,508) rotate(-50)" text-anchor="end">Dec 26</text><text transform="translate(955.5,508) rotate(-50)" text-anchor="end">Jan 6</text><text transform="translate(979.7,508) rotate(-50)" text-anchor="end">Jan 17</text><text transform="translate(1004.0,508) rotate(-50)" text-anchor="end">Jan 28</text><text transform="translate(1028.3,508) rotate(-50)" text-anchor="end">Feb 8</text><text transform="translate(1052.5,508) rotate(-50)" text-anchor="end">Feb 19</text><text transform="translate(1076.8,508) rotate(-50)" text-anchor="end">Mar 2</text><text transform="translate(1101.1,508) rotate(-50)" text-anchor="end">Mar 13</text><text transform="translate(1125.4,508) rotate(-50)" text-anchor="end">Mar 24</text><text transform="translate(1149.6,508) rotate(-50)" text-anchor="end">Apr 4</text><text transform="translate(1173.9,508) rotate(-50)" text-anchor="end">Apr 15</text><text transform="translate(1198.2,508) rotate(-50)" text-anchor="end">Apr 26</text><text transform="translate(1222.4,508) rotate(-50)" text-anchor="end">May 7</text></g>
<polyline points="685.5,285.2 687.7,388.6 689.9,388.6 692.1,285.2 694.3,336.9 696.5,440.3 698.7,440.3 700.9,440.3 703.2,440.3 705.4,388.6 707.6,440.3 709.8,440.3 712.0,440.3 714.2,440.3 716.4,388.6 718.6,440.3 720.8,440.3 723.0,440.3 725.2,233.5 727.4,285.2 729.6,388.6 731.8,388.6 734.0,388.6 736.2,440.3 738.5,440.3 740.7,336.9 742.9,388.6 745.1,440.3 747.3,440.3 749.5,388.6 751.7,440.3 753.9,336.9 756.1,440.3 758.3,440.3 760.5,440.3 762.7,388.6 764.9,440.3 767.1,388.6 769.3,440.3 771.5,440.3 773.8,233.5 776.0,285.2 778.2,440.3 780.4,388.6 782.6,440.3 784.8,336.9 787.0,336.9 789.2,388.6 791.4,440.3 793.6,388.6 795.8,440.3 798.0,388.6 800.2,388.6 802.4,440.3 804.6,388.6 806.9,388.6 809.1,388.6 811.3,388.6 813.5,440.3 815.7,440.3 817.9,440.3 820.1,440.3 822.3,440.3 824.5,388.6 826.7,440.3 828.9,440.3 831.1,440.3 833.3,285.2 835.5,440.3 837.7,440.3 839.9,388.6 842.2,388.6 844.4,440.3 846.6,440.3 848.8,440.3 851.0,388.6 853.2,440.3 855.4,440.3 857.6,440.3 859.8,440.3 862.0,440.3 864.2,388.6 866.4,440.3 868.6,440.3 870.8,440.3 873.0,440.3 875.2,440.3 877.5,440.3 879.7,388.6 881.9,388.6 884.1,440.3 886.3,388.6 888.5,440.3 890.7,336.9 892.9,336.9 895.1,388.6 897.3,440.3 899.5,388.6 901.7,388.6 903.9,388.6 906.1,440.3 908.3,181.8 910.5,440.3 912.8,336.9 915.0,233.5 917.2,440.3 919.4,440.3 921.6,440.3 923.8,440.3 926.0,440.3 928.2,440.3 930.4,440.3 932.6,440.3 934.8,388.6 937.0,440.3 939.2,440.3 941.4,336.9 943.6,440.3 945.9,440.3 948.1,440.3 950.3,440.3 952.5,440.3 954.7,440.3 956.9,440.3 959.1,440.3 961.3,440.3 963.5,388.6 965.7,440.3 967.9,440.3 970.1,440.3 972.3,388.6 974.5,440.3 976.7,388.6 978.9,388.6 981.2,388.6 983.4,233.5 985.6,336.9 987.8,440.3 990.0,440.3 992.2,388.6 994.4,440.3 996.6,336.9 998.8,440.3 1001.0,440.3 1003.2,440.3 1005.4,440.3 1007.6,440.3 1009.8,440.3 1012.0,440.3 1014.2,388.6 1016.5,440.3 1018.7,492.1 1020.9,492.1 1023.1,492.1 1025.3,440.3 1027.5,492.1 1029.7,492.1 1031.9,492.1 1034.1,492.1 1036.3,492.1 1038.5,440.3 1040.7,440.3 1042.9,492.1 1045.1,492.1 1047.3,492.1 1049.5,492.1 1051.8,492.1 1054.0,492.1 1056.2,492.1 1058.4,492.1 1060.6,492.1 1062.8,440.3 1065.0,492.1 1067.2,492.1 1069.4,492.1 1071.6,492.1 1073.8,492.1 1076.0,492.1 1078.2,492.1 1080.4,492.1 1082.6,440.3 1084.9,440.3 1087.1,492.1 1089.3,492.1 1091.5,492.1 1093.7,492.1 1095.9,440.3 1098.1,492.1 1100.3,492.1 1102.5,492.1 1104.7,492.1 1106.9,492.1 1109.1,492.1 1111.3,492.1 1113.5,492.1 1115.7,492.1 1117.9,492.1 1120.2,492.1 1122.4,440.3 1124.6,492.1 1126.8,492.1 1129.0,492.1 1131.2,492.1 1133.4,492.1 1135.6,492.1 1137.8,492.1 1140.0,492.1 1142.2,492.1 1144.4,492.1 1146.6,440.3 1148.8,492.1 1151.0,492.1 1153.2,492.1 1155.5,492.1 1157.7,440.3 1159.9,492.1 1162.1,492.1 1164.3,492.1 1166.5,492.1 1168.7,492.1 1170.9,492.1 1173.1,492.1 1175.3,492.1 1177.5,492.1 1179.7,492.1 1181.9,492.1 1184.1,492.1 1186.3,492.1 1188.6,492.1 1190.8,492.1 1193.0,492.1 1195.2,492.1 1197.4,492.1 1199.6,440.3 1201.8,492.1 1204.0,492.1" fill="none" stroke="#57c3ea" stroke-width="4.1" stroke-linejoin="miter" stroke-miterlimit="10"/>
<g fill="rgba(40,150,205,0.42)" stroke="#54c1e9" stroke-width="1.25"><circle cx="685.5" cy="285.2" r="3.75"/><circle cx="687.7" cy="388.6" r="3.75"/><circle cx="689.9" cy="388.6" r="3.75"/><circle cx="692.1" cy="285.2" r="3.75"/><circle cx="694.3" cy="336.9" r="3.75"/><circle cx="696.5" cy="440.3" r="3.75"/><circle cx="698.7" cy="440.3" r="3.75"/><circle cx="700.9" cy="440.3" r="3.75"/><circle cx="703.2" cy="440.3" r="3.75"/><circle cx="705.4" cy="388.6" r="3.75"/><circle cx="707.6" cy="440.3" r="3.75"/><circle cx="709.8" cy="440.3" r="3.75"/><circle cx="712.0" cy="440.3" r="3.75"/><circle cx="714.2" cy="440.3" r="3.75"/><circle cx="716.4" cy="388.6" r="3.75"/><circle cx="718.6" cy="440.3" r="3.75"/><circle cx="720.8" cy="440.3" r="3.75"/><circle cx="723.0" cy="440.3" r="3.75"/><circle cx="725.2" cy="233.5" r="3.75"/><circle cx="727.4" cy="285.2" r="3.75"/><circle cx="729.6" cy="388.6" r="3.75"/><circle cx="731.8" cy="388.6" r="3.75"/><circle cx="734.0" cy="388.6" r="3.75"/><circle cx="736.2" cy="440.3" r="3.75"/><circle cx="738.5" cy="440.3" r="3.75"/><circle cx="740.7" cy="336.9" r="3.75"/><circle cx="742.9" cy="388.6" r="3.75"/><circle cx="745.1" cy="440.3" r="3.75"/><circle cx="747.3" cy="440.3" r="3.75"/><circle cx="749.5" cy="388.6" r="3.75"/><circle cx="751.7" cy="440.3" r="3.75"/><circle cx="753.9" cy="336.9" r="3.75"/><circle cx="756.1" cy="440.3" r="3.75"/><circle cx="758.3" cy="440.3" r="3.75"/><circle cx="760.5" cy="440.3" r="3.75"/><circle cx="762.7" cy="388.6" r="3.75"/><circle cx="764.9" cy="440.3" r="3.75"/><circle cx="767.1" cy="388.6" r="3.75"/><circle cx="769.3" cy="440.3" r="3.75"/><circle cx="771.5" cy="440.3" r="3.75"/><circle cx="773.8" cy="233.5" r="3.75"/><circle cx="776.0" cy="285.2" r="3.75"/><circle cx="778.2" cy="440.3" r="3.75"/><circle cx="780.4" cy="388.6" r="3.75"/><circle cx="782.6" cy="440.3" r="3.75"/><circle cx="784.8" cy="336.9" r="3.75"/><circle cx="787.0" cy="336.9" r="3.75"/><circle cx="789.2" cy="388.6" r="3.75"/><circle cx="791.4" cy="440.3" r="3.75"/><circle cx="793.6" cy="388.6" r="3.75"/><circle cx="795.8" cy="440.3" r="3.75"/><circle cx="798.0" cy="388.6" r="3.75"/><circle cx="800.2" cy="388.6" r="3.75"/><circle cx="802.4" cy="440.3" r="3.75"/><circle cx="804.6" cy="388.6" r="3.75"/><circle cx="806.9" cy="388.6" r="3.75"/><circle cx="809.1" cy="388.6" r="3.75"/><circle cx="811.3" cy="388.6" r="3.75"/><circle cx="813.5" cy="440.3" r="3.75"/><circle cx="815.7" cy="440.3" r="3.75"/><circle cx="817.9" cy="440.3" r="3.75"/><circle cx="820.1" cy="440.3" r="3.75"/><circle cx="822.3" cy="440.3" r="3.75"/><circle cx="824.5" cy="388.6" r="3.75"/><circle cx="826.7" cy="440.3" r="3.75"/><circle cx="828.9" cy="440.3" r="3.75"/><circle cx="831.1" cy="440.3" r="3.75"/><circle cx="833.3" cy="285.2" r="3.75"/><circle cx="835.5" cy="440.3" r="3.75"/><circle cx="837.7" cy="440.3" r="3.75"/><circle cx="839.9" cy="388.6" r="3.75"/><circle cx="842.2" cy="388.6" r="3.75"/><circle cx="844.4" cy="440.3" r="3.75"/><circle cx="846.6" cy="440.3" r="3.75"/><circle cx="848.8" cy="440.3" r="3.75"/><circle cx="851.0" cy="388.6" r="3.75"/><circle cx="853.2" cy="440.3" r="3.75"/><circle cx="855.4" cy="440.3" r="3.75"/><circle cx="857.6" cy="440.3" r="3.75"/><circle cx="859.8" cy="440.3" r="3.75"/><circle cx="862.0" cy="440.3" r="3.75"/><circle cx="864.2" cy="388.6" r="3.75"/><circle cx="866.4" cy="440.3" r="3.75"/><circle cx="868.6" cy="440.3" r="3.75"/><circle cx="870.8" cy="440.3" r="3.75"/><circle cx="873.0" cy="440.3" r="3.75"/><circle cx="875.2" cy="440.3" r="3.75"/><circle cx="877.5" cy="440.3" r="3.75"/><circle cx="879.7" cy="388.6" r="3.75"/><circle cx="881.9" cy="388.6" r="3.75"/><circle cx="884.1" cy="440.3" r="3.75"/><circle cx="886.3" cy="388.6" r="3.75"/><circle cx="888.5" cy="440.3" r="3.75"/><circle cx="890.7" cy="336.9" r="3.75"/><circle cx="892.9" cy="336.9" r="3.75"/><circle cx="895.1" cy="388.6" r="3.75"/><circle cx="897.3" cy="440.3" r="3.75"/><circle cx="899.5" cy="388.6" r="3.75"/><circle cx="901.7" cy="388.6" r="3.75"/><circle cx="903.9" cy="388.6" r="3.75"/><circle cx="906.1" cy="440.3" r="3.75"/><circle cx="908.3" cy="181.8" r="3.75"/><circle cx="910.5" cy="440.3" r="3.75"/><circle cx="912.8" cy="336.9" r="3.75"/><circle cx="915.0" cy="233.5" r="3.75"/><circle cx="917.2" cy="440.3" r="3.75"/><circle cx="919.4" cy="440.3" r="3.75"/><circle cx="921.6" cy="440.3" r="3.75"/><circle cx="923.8" cy="440.3" r="3.75"/><circle cx="926.0" cy="440.3" r="3.75"/><circle cx="928.2" cy="440.3" r="3.75"/><circle cx="930.4" cy="440.3" r="3.75"/><circle cx="932.6" cy="440.3" r="3.75"/><circle cx="934.8" cy="388.6" r="3.75"/><circle cx="937.0" cy="440.3" r="3.75"/><circle cx="939.2" cy="440.3" r="3.75"/><circle cx="941.4" cy="336.9" r="3.75"/><circle cx="943.6" cy="440.3" r="3.75"/><circle cx="945.9" cy="440.3" r="3.75"/><circle cx="948.1" cy="440.3" r="3.75"/><circle cx="950.3" cy="440.3" r="3.75"/><circle cx="952.5" cy="440.3" r="3.75"/><circle cx="954.7" cy="440.3" r="3.75"/><circle cx="956.9" cy="440.3" r="3.75"/><circle cx="959.1" cy="440.3" r="3.75"/><circle cx="961.3" cy="440.3" r="3.75"/><circle cx="963.5" cy="388.6" r="3.75"/><circle cx="965.7" cy="440.3" r="3.75"/><circle cx="967.9" cy="440.3" r="3.75"/><circle cx="970.1" cy="440.3" r="3.75"/><circle cx="972.3" cy="388.6" r="3.75"/><circle cx="974.5" cy="440.3" r="3.75"/><circle cx="976.7" cy="388.6" r="3.75"/><circle cx="978.9" cy="388.6" r="3.75"/><circle cx="981.2" cy="388.6" r="3.75"/><circle cx="983.4" cy="233.5" r="3.75"/><circle cx="985.6" cy="336.9" r="3.75"/><circle cx="987.8" cy="440.3" r="3.75"/><circle cx="990.0" cy="440.3" r="3.75"/><circle cx="992.2" cy="388.6" r="3.75"/><circle cx="994.4" cy="440.3" r="3.75"/><circle cx="996.6" cy="336.9" r="3.75"/><circle cx="998.8" cy="440.3" r="3.75"/><circle cx="1001.0" cy="440.3" r="3.75"/><circle cx="1003.2" cy="440.3" r="3.75"/><circle cx="1005.4" cy="440.3" r="3.75"/><circle cx="1007.6" cy="440.3" r="3.75"/><circle cx="1009.8" cy="440.3" r="3.75"/><circle cx="1012.0" cy="440.3" r="3.75"/><circle cx="1014.2" cy="388.6" r="3.75"/><circle cx="1016.5" cy="440.3" r="3.75"/><circle cx="1018.7" cy="492.1" r="3.75"/><circle cx="1020.9" cy="492.1" r="3.75"/><circle cx="1023.1" cy="492.1" r="3.75"/><circle cx="1025.3" cy="440.3" r="3.75"/><circle cx="1027.5" cy="492.1" r="3.75"/><circle cx="1029.7" cy="492.1" r="3.75"/><circle cx="1031.9" cy="492.1" r="3.75"/><circle cx="1034.1" cy="492.1" r="3.75"/><circle cx="1036.3" cy="492.1" r="3.75"/><circle cx="1038.5" cy="440.3" r="3.75"/><circle cx="1040.7" cy="440.3" r="3.75"/><circle cx="1042.9" cy="492.1" r="3.75"/><circle cx="1045.1" cy="492.1" r="3.75"/><circle cx="1047.3" cy="492.1" r="3.75"/><circle cx="1049.5" cy="492.1" r="3.75"/><circle cx="1051.8" cy="492.1" r="3.75"/><circle cx="1054.0" cy="492.1" r="3.75"/><circle cx="1056.2" cy="492.1" r="3.75"/><circle cx="1058.4" cy="492.1" r="3.75"/><circle cx="1060.6" cy="492.1" r="3.75"/><circle cx="1062.8" cy="440.3" r="3.75"/><circle cx="1065.0" cy="492.1" r="3.75"/><circle cx="1067.2" cy="492.1" r="3.75"/><circle cx="1069.4" cy="492.1" r="3.75"/><circle cx="1071.6" cy="492.1" r="3.75"/><circle cx="1073.8" cy="492.1" r="3.75"/><circle cx="1076.0" cy="492.1" r="3.75"/><circle cx="1078.2" cy="492.1" r="3.75"/><circle cx="1080.4" cy="492.1" r="3.75"/><circle cx="1082.6" cy="440.3" r="3.75"/><circle cx="1084.9" cy="440.3" r="3.75"/><circle cx="1087.1" cy="492.1" r="3.75"/><circle cx="1089.3" cy="492.1" r="3.75"/><circle cx="1091.5" cy="492.1" r="3.75"/><circle cx="1093.7" cy="492.1" r="3.75"/><circle cx="1095.9" cy="440.3" r="3.75"/><circle cx="1098.1" cy="492.1" r="3.75"/><circle cx="1100.3" cy="492.1" r="3.75"/><circle cx="1102.5" cy="492.1" r="3.75"/><circle cx="1104.7" cy="492.1" r="3.75"/><circle cx="1106.9" cy="492.1" r="3.75"/><circle cx="1109.1" cy="492.1" r="3.75"/><circle cx="1111.3" cy="492.1" r="3.75"/><circle cx="1113.5" cy="492.1" r="3.75"/><circle cx="1115.7" cy="492.1" r="3.75"/><circle cx="1117.9" cy="492.1" r="3.75"/><circle cx="1120.2" cy="492.1" r="3.75"/><circle cx="1122.4" cy="440.3" r="3.75"/><circle cx="1124.6" cy="492.1" r="3.75"/><circle cx="1126.8" cy="492.1" r="3.75"/><circle cx="1129.0" cy="492.1" r="3.75"/><circle cx="1131.2" cy="492.1" r="3.75"/><circle cx="1133.4" cy="492.1" r="3.75"/><circle cx="1135.6" cy="492.1" r="3.75"/><circle cx="1137.8" cy="492.1" r="3.75"/><circle cx="1140.0" cy="492.1" r="3.75"/><circle cx="1142.2" cy="492.1" r="3.75"/><circle cx="1144.4" cy="492.1" r="3.75"/><circle cx="1146.6" cy="440.3" r="3.75"/><circle cx="1148.8" cy="492.1" r="3.75"/><circle cx="1151.0" cy="492.1" r="3.75"/><circle cx="1153.2" cy="492.1" r="3.75"/><circle cx="1155.5" cy="492.1" r="3.75"/><circle cx="1157.7" cy="440.3" r="3.75"/><circle cx="1159.9" cy="492.1" r="3.75"/><circle cx="1162.1" cy="492.1" r="3.75"/><circle cx="1164.3" cy="492.1" r="3.75"/><circle cx="1166.5" cy="492.1" r="3.75"/><circle cx="1168.7" cy="492.1" r="3.75"/><circle cx="1170.9" cy="492.1" r="3.75"/><circle cx="1173.1" cy="492.1" r="3.75"/><circle cx="1175.3" cy="492.1" r="3.75"/><circle cx="1177.5" cy="492.1" r="3.75"/><circle cx="1179.7" cy="492.1" r="3.75"/><circle cx="1181.9" cy="492.1" r="3.75"/><circle cx="1184.1" cy="492.1" r="3.75"/><circle cx="1186.3" cy="492.1" r="3.75"/><circle cx="1188.6" cy="492.1" r="3.75"/><circle cx="1190.8" cy="492.1" r="3.75"/><circle cx="1193.0" cy="492.1" r="3.75"/><circle cx="1195.2" cy="492.1" r="3.75"/><circle cx="1197.4" cy="492.1" r="3.75"/><circle cx="1199.6" cy="440.3" r="3.75"/><circle cx="1201.8" cy="492.1" r="3.75"/><circle cx="1204.0" cy="492.1" r="3.75"/></g>
</svg>
<div class="upd">Last Updated Today at 12:08 AM</div>
</body></html>
